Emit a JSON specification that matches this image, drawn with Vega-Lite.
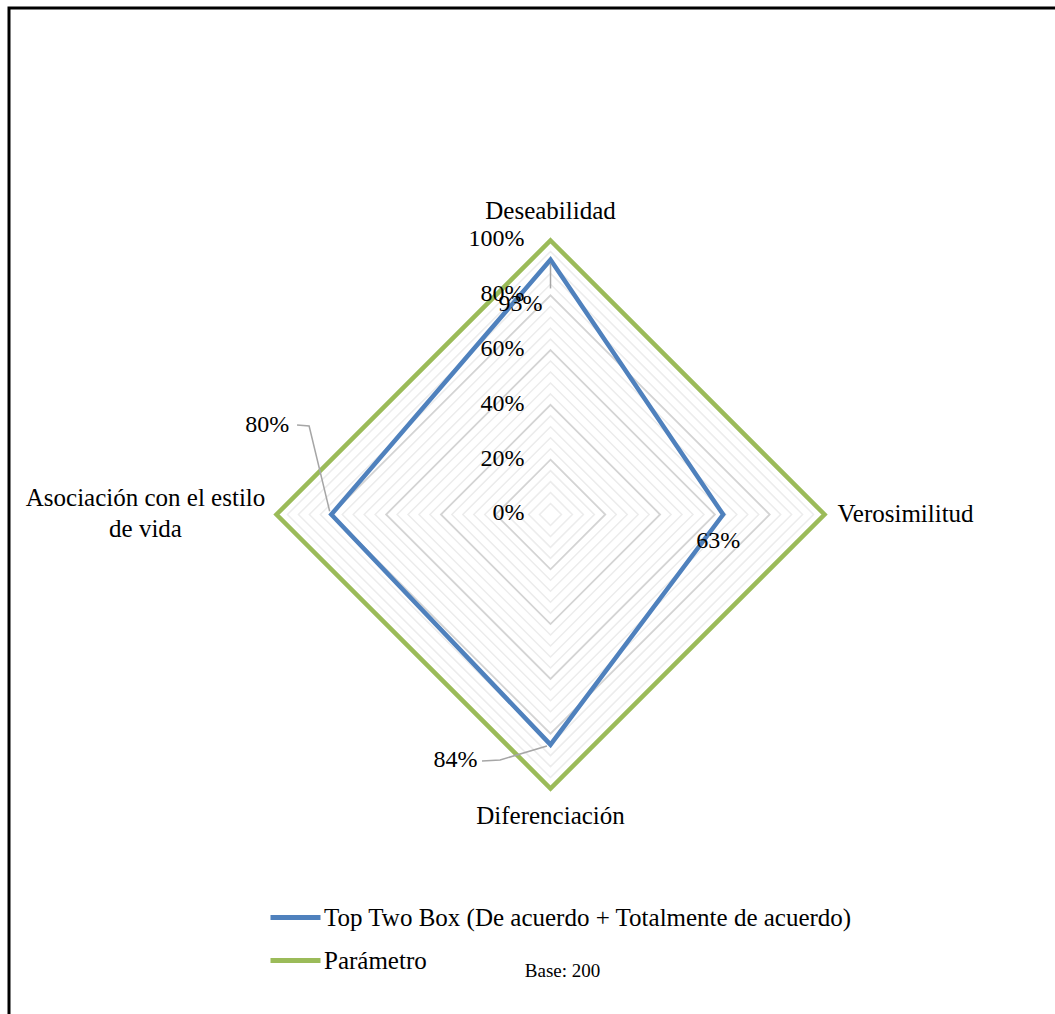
{
  "$schema": "https://vega.github.io/schema/vega-lite/v6.json",
  "width": 1060,
  "height": 1020,
  "autosize": {"type": "none"},
  "padding": {"left": 9, "top": 8, "right": 0, "bottom": 0},
  "background": "white",
  "config": {
    "view": {"stroke": "black", "strokeWidth": 3},
    "font": "Liberation Serif",
    "text": {"font": "Liberation Serif", "fontSize": 24, "color": "#000000"}
  },
  "datasets": {
    "series": [
      {"series": "Top Two Box (De acuerdo + Totalmente de acuerdo)", "axis": "Deseabilidad", "k": 0, "value": 0.93},
      {"series": "Top Two Box (De acuerdo + Totalmente de acuerdo)", "axis": "Verosimilitud", "k": 1, "value": 0.63},
      {"series": "Top Two Box (De acuerdo + Totalmente de acuerdo)", "axis": "Diferenciación", "k": 2, "value": 0.84},
      {"series": "Top Two Box (De acuerdo + Totalmente de acuerdo)", "axis": "Asociación con el estilo de vida", "k": 3, "value": 0.80},
      {"series": "Parámetro", "axis": "Deseabilidad", "k": 0, "value": 1.0},
      {"series": "Parámetro", "axis": "Verosimilitud", "k": 1, "value": 1.0},
      {"series": "Parámetro", "axis": "Diferenciación", "k": 2, "value": 1.0},
      {"series": "Parámetro", "axis": "Asociación con el estilo de vida", "k": 3, "value": 1.0}
    ],
    "grid": [
      {"level": 0.04, "k": [0, 1, 2, 3]}, {"level": 0.08, "k": [0, 1, 2, 3]},
      {"level": 0.12, "k": [0, 1, 2, 3]}, {"level": 0.16, "k": [0, 1, 2, 3]},
      {"level": 0.20, "k": [0, 1, 2, 3]}, {"level": 0.24, "k": [0, 1, 2, 3]},
      {"level": 0.28, "k": [0, 1, 2, 3]}, {"level": 0.32, "k": [0, 1, 2, 3]},
      {"level": 0.36, "k": [0, 1, 2, 3]}, {"level": 0.40, "k": [0, 1, 2, 3]},
      {"level": 0.44, "k": [0, 1, 2, 3]}, {"level": 0.48, "k": [0, 1, 2, 3]},
      {"level": 0.52, "k": [0, 1, 2, 3]}, {"level": 0.56, "k": [0, 1, 2, 3]},
      {"level": 0.60, "k": [0, 1, 2, 3]}, {"level": 0.64, "k": [0, 1, 2, 3]},
      {"level": 0.68, "k": [0, 1, 2, 3]}, {"level": 0.72, "k": [0, 1, 2, 3]},
      {"level": 0.76, "k": [0, 1, 2, 3]}, {"level": 0.80, "k": [0, 1, 2, 3]},
      {"level": 0.84, "k": [0, 1, 2, 3]}, {"level": 0.88, "k": [0, 1, 2, 3]},
      {"level": 0.92, "k": [0, 1, 2, 3]}, {"level": 0.96, "k": [0, 1, 2, 3]},
      {"level": 1.00, "k": [0, 1, 2, 3]}
    ],
    "ticks": [
      {"level": 0.0}, {"level": 0.2}, {"level": 0.4}, {"level": 0.6}, {"level": 0.8}, {"level": 1.0}
    ],
    "leaders": [
      {"id": "d", "p": 0, "x": 0.0, "y": 0.915},
      {"id": "d", "p": 1, "x": 0.0, "y": 0.825},
      {"id": "a", "p": 0, "x": -0.925, "y": 0.327},
      {"id": "a", "p": 1, "x": -0.881, "y": 0.323},
      {"id": "a", "p": 2, "x": -0.806, "y": 0.012},
      {"id": "f", "p": 0, "x": -0.25, "y": -0.90},
      {"id": "f", "p": 1, "x": -0.184, "y": -0.896},
      {"id": "f", "p": 2, "x": -0.013, "y": -0.845}
    ],
    "note": [{"text": "Base: 200"}]
  },
  "encoding": {
    "x": {"field": "x", "type": "quantitative", "axis": null,
          "scale": {"domain": [-1.9763, 1.8923], "nice": false, "zero": false}},
    "y": {"field": "y", "type": "quantitative", "axis": null,
          "scale": {"domain": [-1.8741, 1.8485], "nice": false, "zero": false}}
  },
  "layer": [
    {
      "data": {"name": "grid"},
      "transform": [
        {"flatten": ["k"]},
        {"filter": "abs(datum.level*5 - round(datum.level*5)) > 0.001"},
        {"calculate": "datum.level*sin(datum.k*PI/2)", "as": "x"},
        {"calculate": "datum.level*cos(datum.k*PI/2)", "as": "y"}
      ],
      "mark": {"type": "line", "interpolate": "linear-closed", "stroke": "#ececec", "strokeWidth": 1.5},
      "encoding": {"detail": {"field": "level"}, "order": {"field": "k"}}
    },
    {
      "data": {"name": "grid"},
      "transform": [
        {"flatten": ["k"]},
        {"filter": "abs(datum.level*5 - round(datum.level*5)) <= 0.001"},
        {"calculate": "datum.level*sin(datum.k*PI/2)", "as": "x"},
        {"calculate": "datum.level*cos(datum.k*PI/2)", "as": "y"}
      ],
      "mark": {"type": "line", "interpolate": "linear-closed", "stroke": "#d4d4d4", "strokeWidth": 1.8},
      "encoding": {"detail": {"field": "level"}, "order": {"field": "k"}}
    },
    {
      "data": {"name": "series"},
      "transform": [
        {"calculate": "datum.value*sin(datum.k*PI/2)", "as": "x"},
        {"calculate": "datum.value*cos(datum.k*PI/2)", "as": "y"}
      ],
      "mark": {"type": "line", "interpolate": "linear-closed", "strokeWidth": 4.5, "strokeJoin": "miter"},
      "encoding": {
        "order": {"field": "k"},
        "color": {
          "field": "series", "type": "nominal", "title": null,
          "sort": ["Top Two Box (De acuerdo + Totalmente de acuerdo)", "Parámetro"],
          "scale": {"domain": ["Top Two Box (De acuerdo + Totalmente de acuerdo)", "Parámetro"],
                    "range": ["#4f81bd", "#9bbb59"]},
          "legend": {
            "orient": "none", "legendX": 259, "legendY": 882,
            "symbolType": "stroke", "symbolSize": 2500, "symbolStrokeWidth": 5,
            "labelFont": "Liberation Serif", "labelFontSize": 25, "labelColor": "#000000",
            "labelOffset": 1, "rowPadding": 2, "padding": 0, "labelLimit": 800
          }
        }
      }
    },
    {
      "data": {"name": "leaders"},
      "mark": {"type": "line", "stroke": "#a6a6a6", "strokeWidth": 1.5},
      "encoding": {"detail": {"field": "id"}, "order": {"field": "p"}}
    },
    {
      "data": {"name": "ticks"},
      "transform": [
        {"calculate": "0", "as": "x"},
        {"calculate": "datum.level", "as": "y"}
      ],
      "mark": {"type": "text", "align": "right", "baseline": "middle", "dx": -26, "dy": -1},
      "encoding": {"text": {"field": "level", "type": "quantitative", "format": ".0%"}}
    },
    {
      "data": {"name": "series"},
      "transform": [
        {"filter": "datum.series == 'Parámetro' && datum.k == 0"},
        {"calculate": "0", "as": "x"}, {"calculate": "datum.value", "as": "y"}
      ],
      "mark": {"type": "text", "align": "center", "baseline": "middle", "dy": -29, "fontSize": 25},
      "encoding": {"text": {"field": "axis"}}
    },
    {
      "data": {"name": "series"},
      "transform": [
        {"filter": "datum.series == 'Parámetro' && datum.k == 1"},
        {"calculate": "datum.value", "as": "x"}, {"calculate": "0", "as": "y"}
      ],
      "mark": {"type": "text", "align": "left", "baseline": "middle", "dx": 13, "fontSize": 25},
      "encoding": {"text": {"field": "axis"}}
    },
    {
      "data": {"name": "series"},
      "transform": [
        {"filter": "datum.series == 'Parámetro' && datum.k == 2"},
        {"calculate": "0", "as": "x"}, {"calculate": "-datum.value", "as": "y"}
      ],
      "mark": {"type": "text", "align": "center", "baseline": "middle", "dy": 28, "fontSize": 25},
      "encoding": {"text": {"field": "axis"}}
    },
    {
      "data": {"name": "series"},
      "transform": [
        {"filter": "datum.series == 'Parámetro' && datum.k == 3"},
        {"calculate": "-datum.value", "as": "x"}, {"calculate": "0", "as": "y"},
        {"calculate": "['Asociación con el estilo', 'de vida']", "as": "lines"}
      ],
      "mark": {"type": "text", "align": "center", "baseline": "middle", "dx": -131, "dy": -16, "lineHeight": 31, "fontSize": 25},
      "encoding": {"text": {"field": "lines"}}
    },
    {
      "data": {"name": "series"},
      "transform": [
        {"filter": "datum.series != 'Parámetro' && datum.k == 0"},
        {"calculate": "0", "as": "x"}, {"calculate": "datum.value", "as": "y"}
      ],
      "mark": {"type": "text", "align": "center", "baseline": "middle", "dx": -30, "dy": 44},
      "encoding": {"text": {"field": "value", "type": "quantitative", "format": ".0%"}}
    },
    {
      "data": {"name": "series"},
      "transform": [
        {"filter": "datum.series != 'Parámetro' && datum.k == 1"},
        {"calculate": "datum.value", "as": "x"}, {"calculate": "0", "as": "y"}
      ],
      "mark": {"type": "text", "align": "center", "baseline": "middle", "dx": -5, "dy": 27},
      "encoding": {"text": {"field": "value", "type": "quantitative", "format": ".0%"}}
    },
    {
      "data": {"name": "series"},
      "transform": [
        {"filter": "datum.series != 'Parámetro' && datum.k == 2"},
        {"calculate": "0", "as": "x"}, {"calculate": "-datum.value", "as": "y"}
      ],
      "mark": {"type": "text", "align": "center", "baseline": "middle", "dx": -95, "dy": 15},
      "encoding": {"text": {"field": "value", "type": "quantitative", "format": ".0%"}}
    },
    {
      "data": {"name": "series"},
      "transform": [
        {"filter": "datum.series != 'Parámetro' && datum.k == 3"},
        {"calculate": "-datum.value", "as": "x"}, {"calculate": "0", "as": "y"}
      ],
      "mark": {"type": "text", "align": "center", "baseline": "middle", "dx": -64, "dy": -89},
      "encoding": {"text": {"field": "value", "type": "quantitative", "format": ".0%"}}
    },
    {
      "data": {"name": "note"},
      "transform": [
        {"calculate": "0", "as": "x"}, {"calculate": "0", "as": "y"}
      ],
      "mark": {"type": "text", "align": "center", "baseline": "middle", "fontSize": 19, "dx": 12, "dy": 457},
      "encoding": {"text": {"field": "text"}}
    }
  ]
}
